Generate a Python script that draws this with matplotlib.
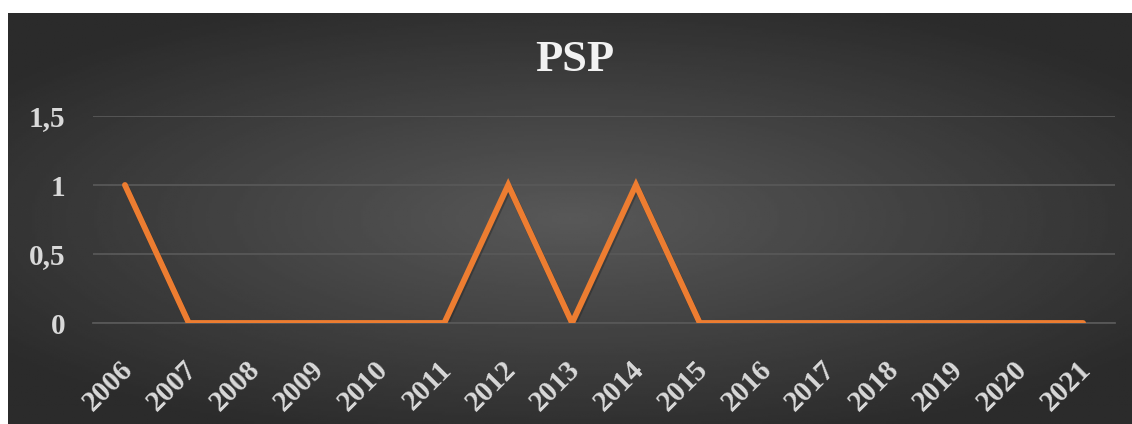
import numpy as np
import matplotlib.pyplot as plt
from matplotlib.transforms import ScaledTranslation

years = ['2006', '2007', '2008', '2009', '2010', '2011', '2012', '2013',
         '2014', '2015', '2016', '2017', '2018', '2019', '2020', '2021']
psp = [1, 0, 0, 0, 0, 0, 1, 0, 1, 0, 0, 0, 0, 0, 0, 0]
yticks = [0, 0.5, 1, 1.5]
ytick_labels = ['0', '0,5', '1', '1,5']

plt.rcParams['font.family'] = ['Liberation Serif', 'DejaVu Serif']

fig = plt.figure(figsize=(11.32, 4.24), dpi=100)
fig.patch.set_facecolor('white')

# dark radial gradient background
bg = fig.add_axes([8 / 1132, 0, 1 - 8 / 1132, 1 - 13 / 424])
gx, gy = np.meshgrid(np.linspace(-1, 1, 400), np.linspace(-1, 1, 200))
r = np.sqrt(gx ** 2 + (gy * 1.1) ** 2)
r = np.clip(r / 1.25, 0, 1)
shade = 0.345 - (0.345 - 0.17) * r
bg.imshow(shade, cmap='gray', vmin=0, vmax=1, aspect='auto', extent=[0, 1, 0, 1])
bg.set_axis_off()

ax = fig.add_axes([93 / 1132, 1 - 323 / 424, (1115 - 93) / 1132, (323 - 116) / 424])
ax.patch.set_alpha(0)
x = np.arange(len(years))
shadow = ax.transData + ScaledTranslation(1 / 100, -2 / 100, fig.dpi_scale_trans)
ax.plot(x, psp, color='#1a1a1a', linewidth=4.6, alpha=0.35,
        solid_capstyle='round', solid_joinstyle='round', zorder=2, transform=shadow)
ax.plot(x, psp, color='#ED7D31', linewidth=4.2, solid_capstyle='round',
        solid_joinstyle='miter', zorder=3)

ax.set_xlim(-0.5, len(years) - 0.5)
ax.set_ylim(0, 1.5)
ax.set_yticks(yticks)
ax.set_yticklabels(ytick_labels)
ax.set_xticks(x)
ax.set_xticklabels(years, rotation=45, ha='right', va='top', rotation_mode='anchor')
ax.tick_params(length=0, colors='#d9d9d9', labelsize=21)
ax.tick_params(axis='x', pad=14)
ax.tick_params(axis='y', pad=20)
shift = ScaledTranslation(-6 / 100, -13 / 100, fig.dpi_scale_trans)
for lab in ax.get_xticklabels():
    lab.set_transform(lab.get_transform() + shift)
for lab in ax.get_xticklabels() + ax.get_yticklabels():
    lab.set_fontweight('bold')
ax.grid(axis='y', color='#585858', linewidth=1.3)
ax.set_axisbelow(True)
for s in ax.spines.values():
    s.set_visible(False)
ax.spines['bottom'].set_visible(True)
ax.spines['bottom'].set_color('#585858')
ax.spines['bottom'].set_linewidth(1.3)

fig.text(0.508, 1 - 60 / 424, 'PSP', color='#f2f2f2', fontsize=32,
         fontweight='bold', ha='center', va='center')

fig.savefig('out.png', dpi=100, facecolor=fig.get_facecolor())
